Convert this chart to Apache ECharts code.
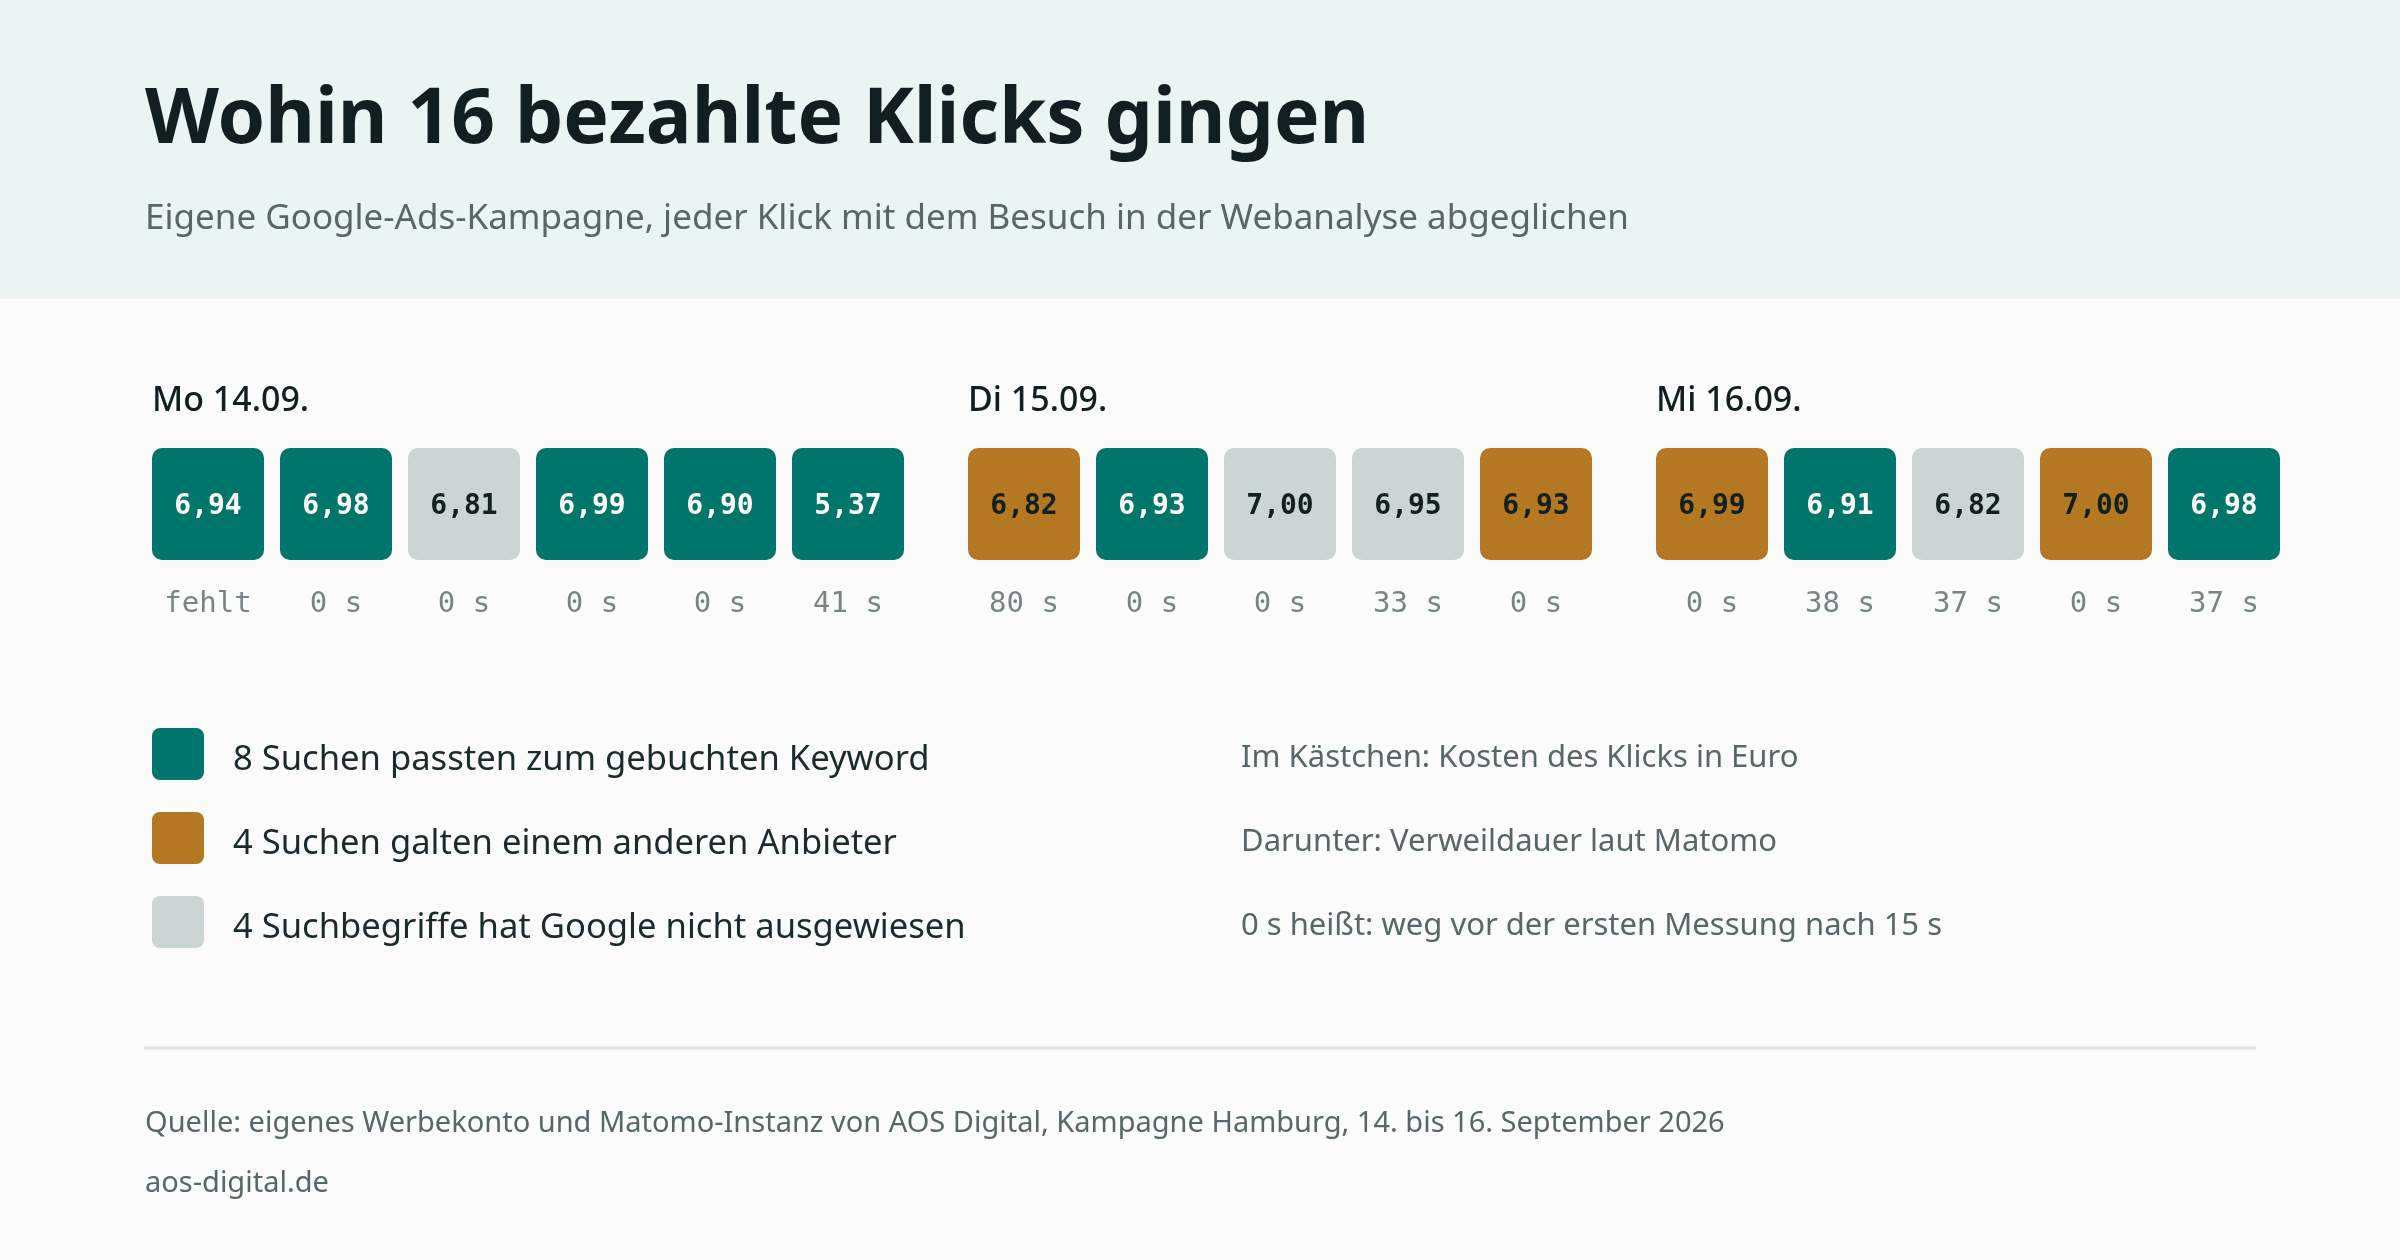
<!DOCTYPE html>
<html>
<head>
<meta charset="utf-8">
<script src="https://cdn.jsdelivr.net/npm/echarts@6/dist/echarts.min.js"></script>
<style>
  html, body { margin: 0; padding: 0; background: #fbfbfb; }
  #chart { width: 2400px; height: 1260px; }
</style>
</head>
<body>
<div id="chart"></div>
<script>
// ---------- data ----------
const titleText = 'Wohin 16 bezahlte Klicks gingen';
const subtitleText = 'Eigene Google-Ads-Kampagne, jeder Klick mit dem Besuch in der Webanalyse abgeglichen';
const days = ['Mo 14.09.', 'Di 15.09.', 'Mi 16.09.'];
// cost per click in euro
const costs = [
  [6.94, 6.98, 6.81, 6.99, 6.90, 5.37],
  [6.82, 6.93, 7.00, 6.95, 6.93],
  [6.99, 6.91, 6.82, 7.00, 6.98]
];
// dwell time in seconds (null = missing)
const durations = [
  [null, 0, 0, 0, 0, 41],
  [80, 0, 0, 33, 0],
  [0, 38, 37, 0, 37]
];
// m = matched booked keyword, o = other provider, n = not shown by Google
const types = [
  ['m', 'm', 'n', 'm', 'm', 'm'],
  ['o', 'm', 'n', 'n', 'o'],
  ['o', 'm', 'n', 'o', 'm']
];
const typeKeys = ['m', 'o', 'n'];
const typeTexts = {
  m: 'Suchen passten zum gebuchten Keyword',
  o: 'Suchen galten einem anderen Anbieter',
  n: 'Suchbegriffe hat Google nicht ausgewiesen'
};
const notes = [
  'Im Kästchen: Kosten des Klicks in Euro',
  'Darunter: Verweildauer laut Matomo',
  '0 s heißt: weg vor der ersten Messung nach 15 s'
];
const sourceLines = [
  'Quelle: eigenes Werbekonto und Matomo-Instanz von AOS Digital, Kampagne Hamburg, 14. bis 16. September 2026',
  'aos-digital.de'
];

// ---------- styles ----------
const typeColors = { m: '#00756b', o: '#b57822', n: '#cbd5d3' };
const typeLabelColors = { m: '#ffffff', o: '#12201f', n: '#12201f' };
const SANS = "'Noto Sans', 'Open Sans', sans-serif";
const MONO = "'DejaVu Sans Mono', 'Liberation Mono', monospace";
const boxPath = 'path://M10,0H102A10,10 0 0 1 112,10V102A10,10 0 0 1 102,112H10A10,10 0 0 1 0,102V10A10,10 0 0 1 10,0Z';
const legendPath = 'path://M8,0H44A8,8 0 0 1 52,8V44A8,8 0 0 1 44,52H8A8,8 0 0 1 0,44V8A8,8 0 0 1 8,0Z';

const gridLayout = [
  { left: 144, width: 768 },
  { left: 960, width: 640 },
  { left: 1648, width: 640 }
];
const dayLabelX = [152, 968, 1656];

function fmtCost(v) { return v.toFixed(2).replace('.', ','); }
function fmtDur(v) { return v === null ? 'fehlt' : v + ' s'; }

const counts = {};
typeKeys.forEach(k => counts[k] = 0);
types.forEach(d => d.forEach(t => counts[t]++));
const legendNames = {};
typeKeys.forEach(k => legendNames[k] = counts[k] + ' ' + typeTexts[k]);

const grids = [], xAxes = [], yAxes = [], series = [];
days.forEach((day, d) => {
  grids.push({ left: gridLayout[d].left, width: gridLayout[d].width, top: 448, height: 112 });
  xAxes.push({ type: 'category', gridIndex: d, data: costs[d].map((_, i) => String(i + 1)), show: false, boundaryGap: true });
  yAxes.push({ type: 'category', gridIndex: d, data: ['Klicks'], show: false });
  typeKeys.forEach(k => {
    const data = [];
    costs[d].forEach((c, i) => { if (types[d][i] === k) data.push({ value: [i, 0, c] }); });
    series.push({
      type: 'scatter', name: legendNames[k], xAxisIndex: d, yAxisIndex: d,
      symbol: boxPath, symbolSize: 112, clip: false,
      itemStyle: { color: typeColors[k], opacity: 1 },
      emphasis: { scale: false },
      label: {
        show: true, position: 'inside', offset: [0, 3],
        formatter: p => fmtCost(p.value[2]),
        fontFamily: MONO, fontWeight: 'bold', fontSize: 28, color: typeLabelColors[k]
      },
      data
    });
  });
  series.push({
    type: 'scatter', name: 'Verweildauer ' + day, xAxisIndex: d, yAxisIndex: d,
    symbol: boxPath, symbolSize: 112, clip: false, silent: true, z: 1,
    itemStyle: { color: 'rgba(0,0,0,0)' },
    label: {
      show: true, position: 'bottom', distance: 30,
      formatter: p => fmtDur(p.value[2]),
      fontFamily: MONO, fontSize: 29, color: '#56666a'
    },
    data: durations[d].map((v, i) => ({ value: [i, 0, v] }))
  });
});

const graphics = [
  { type: 'rect', z: -10, shape: { x: 0, y: 0, width: 2400, height: 299 }, style: { fill: '#eaf4f2' } },
  { type: 'text', x: 145, y: 121, style: { text: titleText, fontFamily: SANS, fontWeight: 'bold', fontSize: 76.5, fill: '#111f22', verticalAlign: 'middle' } },
  { type: 'text', x: 145, y: 219, style: { text: subtitleText, fontFamily: SANS, fontSize: 35, fill: '#566669', verticalAlign: 'middle' } },
  { type: 'line', shape: { x1: 144, y1: 1048, x2: 2256, y2: 1048 }, style: { stroke: '#e0e5e4', lineWidth: 3 } }
];
days.forEach((day, d) => {
  graphics.push({ type: 'text', x: dayLabelX[d], y: 401, style: { text: day, fontFamily: SANS, fontWeight: 500, fontSize: 34, fill: '#111f22', verticalAlign: 'middle' } });
});
notes.forEach((n, i) => {
  graphics.push({ type: 'text', x: 1241, y: 758 + i * 84, style: { text: n, fontFamily: SANS, fontSize: 31, fill: '#566669', verticalAlign: 'middle' } });
});
sourceLines.forEach((s, i) => {
  graphics.push({ type: 'text', x: 145, y: 1124 + i * 60, style: { text: s, fontFamily: SANS, fontSize: 29, fill: '#56666a', verticalAlign: 'middle' } });
});

const chart = echarts.init(document.getElementById('chart'));
chart.setOption({
  backgroundColor: '#fbfbfb',
  animation: false,
  grid: grids,
  xAxis: xAxes,
  yAxis: yAxes,
  legend: {
    orient: 'vertical', left: 152, top: 728, padding: 0,
    itemWidth: 52, itemHeight: 52, itemGap: 32,
    icon: legendPath,
    selectedMode: false,
    data: typeKeys.map(k => ({ name: legendNames[k], itemStyle: { color: typeColors[k] } })),
    formatter: name => '{t|' + name + '}',
    textStyle: {
      fontFamily: SANS, fontSize: 34.6, color: '#1a2b2f', padding: [0, 0, 0, 24],
      rich: { t: { fontFamily: SANS, fontSize: 34.6, color: '#1a2b2f', padding: [12, 0, 0, 0] } }
    }
  },
  series,
  graphic: graphics
});
</script>
</body>
</html>
